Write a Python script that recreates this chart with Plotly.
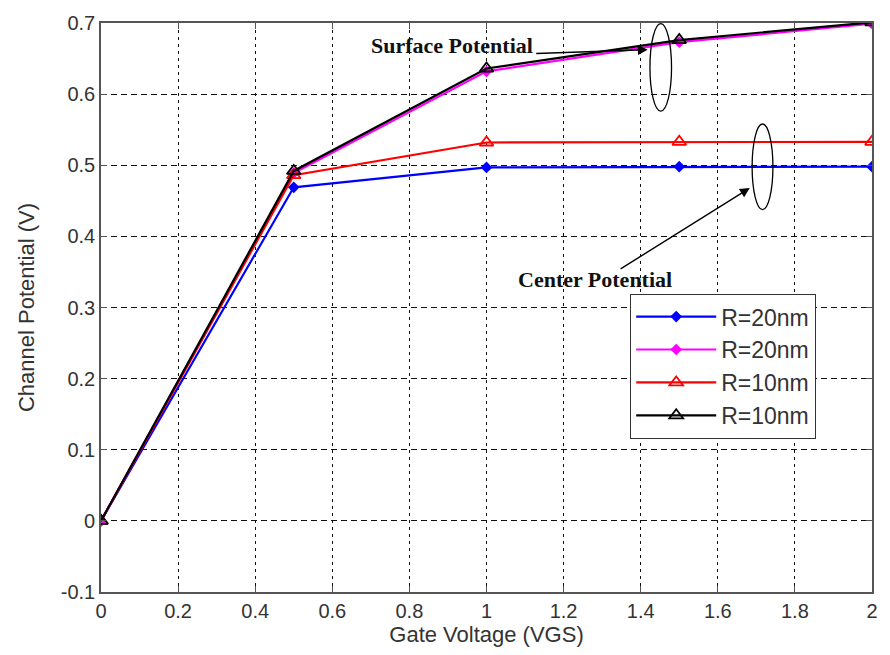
import plotly.graph_objects as go

# Gate voltage sweep (V)
vgs = [0, 0.5, 1.0, 1.5, 2.0]

# Channel potential (V)
center_r20 = [0, 0.469, 0.497, 0.498, 0.498]
surface_r20 = [0, 0.489, 0.632, 0.673, 0.699]
center_r10 = [0, 0.486, 0.532, 0.533, 0.533]
surface_r10 = [0, 0.492, 0.636, 0.676, 0.701]

series_names = ["R=20nm", "R=20nm", "R=10nm", "R=10nm"]
series_colors = ["#0000ff", "#ff00ff", "#ff0000", "#000000"]

x_ticks = [0, 0.2, 0.4, 0.6, 0.8, 1, 1.2, 1.4, 1.6, 1.8, 2]
x_tick_labels = ["0", "0.2", "0.4", "0.6", "0.8", "1", "1.2", "1.4", "1.6", "1.8", "2"]
y_ticks = [-0.1, 0, 0.1, 0.2, 0.3, 0.4, 0.5, 0.6, 0.7]
y_tick_labels = ["-0.1", "0", "0.1", "0.2", "0.3", "0.4", "0.5", "0.6", "0.7"]

SANS = "Liberation Sans, Arial"
SERIF = "Liberation Serif, Times New Roman"

fig = go.Figure()

series = [center_r20, surface_r20, center_r10, surface_r10]
markers = [
    dict(symbol="diamond", size=9),
    dict(symbol="diamond", size=9),
    dict(symbol="triangle-up-open", size=12, line=dict(width=1.8)),
    dict(symbol="triangle-up-open", size=12, line=dict(width=1.8)),
]
for i, (vals, name, col, mk) in enumerate(zip(series, series_names, series_colors, markers)):
    mk = dict(mk, color=col)
    fig.add_trace(go.Scatter(
        x=vgs, y=vals, name=name, mode="lines+markers",
        line=dict(color=col, width=2.2), marker=mk,
        legendgroup=f"g{i}",
    ))

axis_common = dict(
    showline=True, linecolor="#555555", linewidth=1.6, mirror="ticks",
    ticks="inside", ticklen=6, tickcolor="#555555", tickwidth=1.2,
    showgrid=True, gridcolor="#111111", gridwidth=1.3,
    zeroline=False,
    tickfont=dict(family=SANS, size=20, color="#333333"),
)

fig.update_xaxes(
    range=[0, 2], tickvals=x_ticks, ticktext=x_tick_labels, griddash="3px,4px",
    title=dict(text="Gate Voltage (VGS)", standoff=3,
               font=dict(family=SANS, size=22, color="#333333")),
    **axis_common,
)
fig.update_yaxes(
    range=[-0.1, 0.7], tickvals=y_ticks, ticktext=y_tick_labels, griddash="6px,4px",
    title=dict(text="Channel Potential (V)", standoff=20,
               font=dict(family=SANS, size=22, color="#333333")),
    **axis_common,
)

label_font = dict(family=SERIF, size=22, color="#111111")

# Group labels with pointer arrows
fig.add_annotation(x=0.91, y=0.669, text="<b>Surface Potential</b>", showarrow=False,
                   font=label_font, xref="x", yref="y")
fig.add_annotation(x=1.418, y=0.6625, ax=1.125, ay=0.657, axref="x", ayref="y",
                   xref="x", yref="y", text="", showarrow=True,
                   arrowhead=2, arrowsize=1.4, arrowwidth=1.4, arrowcolor="#000000")
fig.add_annotation(x=1.282, y=0.34, text="<b>Center Potential</b>", showarrow=False,
                   font=label_font, xref="x", yref="y")
fig.add_annotation(x=1.683, y=0.468, ax=1.344, ay=0.353, axref="x", ayref="y",
                   xref="x", yref="y", text="", showarrow=True,
                   arrowhead=2, arrowsize=1.4, arrowwidth=1.4, arrowcolor="#000000")

# Ellipses grouping the curves
fig.add_shape(type="circle", xref="x", yref="y", x0=1.424, x1=1.480, y0=0.576, y1=0.699,
              line=dict(color="#000000", width=1.3))
fig.add_shape(type="circle", xref="x", yref="y", x0=1.689, x1=1.743, y0=0.4375, y1=0.558,
              line=dict(color="#000000", width=1.3))

fig.update_layout(
    width=890, height=655,
    margin=dict(l=101, r=12, t=15, b=63),
    plot_bgcolor="white", paper_bgcolor="white",
    legend=dict(
        x=0.686, y=0.524, xanchor="left", yanchor="top",
        bgcolor="white", bordercolor="#333333", borderwidth=1.3,
        font=dict(family=SANS, size=23, color="#333333"),
        itemwidth=80, tracegroupgap=0, traceorder="grouped",
    ),
)

fig.write_html("out.html")
